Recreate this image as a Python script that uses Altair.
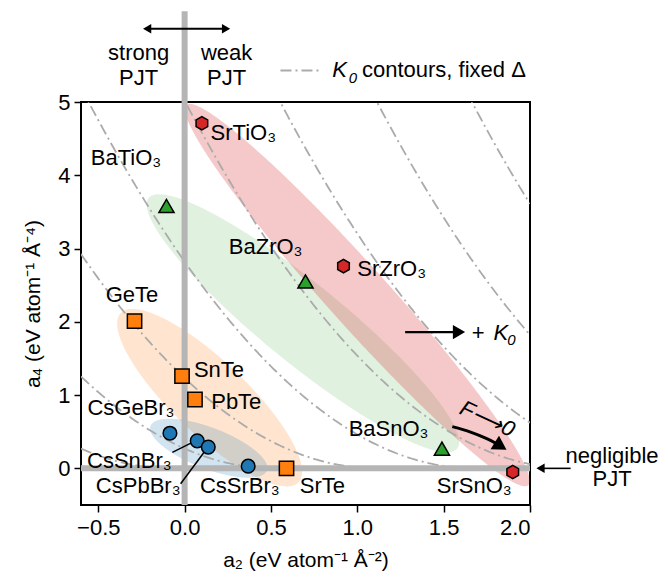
import altair as alt
import numpy as np
import pandas as pd

# ---------------- data ----------------
names = ["SrTiO₃", "SrZrO₃", "SrSnO₃",
         "BaTiO₃", "BaZrO₃", "BaSnO₃",
         "GeTe", "SnTe", "PbTe", "SrTe",
         "CsGeBr₃", "CsSnBr₃", "CsPbBr₃", "CsSrBr₃"]
family = ["Sr"] * 3 + ["Ba"] * 3 + ["Te"] * 4 + ["Br"] * 4
a2_vals = [0.10, 0.92, 1.90,
           -0.105, 0.70, 1.49,
           -0.29, -0.015, 0.06, 0.59,
           -0.085, 0.073, 0.137, 0.368]
a4_vals = [4.71, 2.76, -0.05,
           3.58, 2.55, 0.27,
           2.01, 1.26, 0.94, 0.00,
           0.48, 0.375, 0.29, 0.03]

# label anchor positions (data coords, left-aligned text)
label_x = [0.15, 1.00, 1.46,
           -0.543, 0.256, 0.95,
           -0.457, 0.054, 0.154, 0.667,
           -0.563, -0.565, -0.514, 0.089]
label_y = [4.58, 2.72, -0.24,
           4.24, 3.02, 0.54,
           2.36, 1.34, 0.91, -0.24,
           0.82, 0.10, -0.24, -0.24]

# leader lines for CsSnBr3 and CsPbBr3
leader_x = [-0.071, -0.023]
leader_y = [0.218, -0.21]
leader_x2 = [0.045, 0.116]
leader_y2 = [0.355, 0.23]

# K0 contour values (fixed Delta): a4 = (K0 - a2)^2
K0_values = [-0.08, 0.52, 1.11, 1.68, 2.24, 2.79, 3.35, 3.90]

# shaded ellipses: centre, end of major semi-axis, minor/major ratio
ell_names = ["Ba", "Sr", "Te", "Br"]
ell_cx = [0.685, 1.00, 0.145, 0.14]
ell_cy = [1.98, 2.365, 0.965, 0.275]
ell_tx = [-0.208, 0.01, -0.37, -0.197]
ell_ty = [3.69, 4.96, 2.12, 0.58]
ell_ratio = [0.20, 0.118, 0.30, 0.33]
ell_color = ["#2ca02c", "#d62728", "#ff7f0e", "#1f77b4"]
ell_opacity = [0.15, 0.25, 0.2, 0.2]

fam_color = {"Sr": "#d62728", "Ba": "#2ca02c", "Te": "#ff7f0e", "Br": "#1f77b4"}
HEX = "M0,-1L0.866,-0.5L0.866,0.5L0,1L-0.866,0.5L-0.866,-0.5Z"
fam_shape = {"Sr": HEX, "Ba": "triangle-up", "Te": "square", "Br": "circle"}
fam_size = {"Sr": 180, "Ba": 230, "Te": 205, "Br": 185}

# ---------------- layout ----------------
W, H = 449, 403
XMIN, XMAX = -0.6, 2.0
YMIN, YMAX = -0.5, 5.0
SX = W / (XMAX - XMIN)
SY = H / (YMAX - YMIN)
FONT = "Liberation Sans"
FS = 22

xs = alt.Scale(domain=[XMIN, XMAX], nice=False, zero=False)
ys = alt.Scale(domain=[YMIN, YMAX], nice=False, zero=False)

x_axis = alt.Axis(values=[-0.5, 0.0, 0.5, 1.0, 1.5, 2.0], format=".1f",
                  grid=False, domain=False, tickSize=7, tickWidth=1.5,
                  tickColor="black", labelFontSize=22, labelColor="black",
                  labelFont=FONT, labelPadding=5, titleFont=FONT,
                  titleFontSize=21, titleFontWeight="normal",
                  titleColor="black", titlePadding=11)
y_axis = alt.Axis(values=[0, 1, 2, 3, 4, 5], format="d",
                  grid=False, domain=False, tickSize=7, tickWidth=1.5,
                  tickColor="black", labelFontSize=22, labelColor="black",
                  labelFont=FONT, labelPadding=4, titleFont=FONT,
                  titleFontSize=21, titleFontWeight="normal",
                  titleColor="black", titlePadding=14)
XT = "a₂ (eV atom⁻¹ Å⁻²)"
YT = "a₄ (eV atom⁻¹ Å⁻⁴)"


def X(f="x"):
    return alt.X(f"{f}:Q", scale=xs, axis=x_axis, title=XT)


def Y(f="y"):
    return alt.Y(f"{f}:Q", scale=ys, axis=y_axis, title=YT)


def ellipse_band(cx, cy, tx, ty, ratio, n=400):
    ux, uy = (tx - cx) * SX, (ty - cy) * SY
    a = np.hypot(ux, uy)
    ux, uy = ux / a, uy / a
    vx, vy = -uy, ux
    b = ratio * a
    hw = np.sqrt((a * ux) ** 2 + (b * vx) ** 2)
    d = hw * np.cos(np.linspace(0, np.pi, n))
    A = uy ** 2 / a ** 2 + vy ** 2 / b ** 2
    B = 2 * d * (ux * uy / a ** 2 + vx * vy / b ** 2)
    C = d ** 2 * (ux ** 2 / a ** 2 + vx ** 2 / b ** 2) - 1
    disc = np.clip(B ** 2 - 4 * A * C, 0, None)
    e1 = (-B - np.sqrt(disc)) / (2 * A)
    e2 = (-B + np.sqrt(disc)) / (2 * A)
    return pd.DataFrame({"x": cx + d / SX, "y": cy + e1 / SY, "y2": cy + e2 / SY})


layers = []

# ellipses
for i in range(len(ell_names)):
    df = ellipse_band(ell_cx[i], ell_cy[i], ell_tx[i], ell_ty[i], ell_ratio[i])
    layers.append(alt.Chart(df).mark_area(color=ell_color[i], opacity=ell_opacity[i],
                                          clip=True)
                  .encode(x=X(), y=Y(), y2="y2:Q"))

# contours
rows = []
for k in K0_values:
    hi = min(k, XMAX)
    if hi <= XMIN:
        continue
    for xv in np.linspace(XMIN, hi, 200):
        rows.append({"K": k, "x": xv, "y": (k - xv) ** 2})
cont = pd.DataFrame(rows)
layers.append(alt.Chart(cont).mark_line(color="#ababab", strokeWidth=1.8,
                                        strokeDash=[11, 4, 2, 4], clip=True)
              .encode(x=X(), y=Y(), detail="K:N"))

# gray axes lines
vline = pd.DataFrame({"x": [0.0], "y": [YMIN], "y2": [6.24]})
hline = pd.DataFrame({"x": [XMIN], "x2": [XMAX], "y": [0.0]})
layers.append(alt.Chart(vline).mark_rule(color="#b5b5b5", strokeWidth=6, strokeCap="butt")
              .encode(x=X(), y=Y(), y2="y2:Q"))
layers.append(alt.Chart(hline).mark_rule(color="#b5b5b5", strokeWidth=6, strokeCap="butt")
              .encode(x=X(), x2="x2:Q", y=Y()))

# leader lines
lead = pd.DataFrame({"x": leader_x, "y": leader_y, "x2": leader_x2, "y2": leader_y2})
layers.append(alt.Chart(lead).mark_rule(color="black", strokeWidth=1.5)
              .encode(x=X(), y=Y(), x2="x2:Q", y2="y2:Q"))

# markers
pts = pd.DataFrame({"x": a2_vals, "y": a4_vals, "fam": family, "name": names})
for fam in ["Br", "Te", "Ba", "Sr"]:
    layers.append(alt.Chart(pts[pts.fam == fam]).mark_point(
        shape=fam_shape[fam], size=fam_size[fam], filled=True, fill=fam_color[fam],
        stroke="black", strokeWidth=1.5, opacity=1)
        .encode(x=X(), y=Y()))

# material labels
lab = pd.DataFrame({"x": label_x, "y": label_y, "t": names})
layers.append(alt.Chart(lab).mark_text(align="left", baseline="middle", fontSize=FS,
                                       font=FONT, color="black")
              .encode(x=X(), y=Y(), text="t:N"))

# annotations text
ann_t = ["strong", "PJT", "weak", "PJT", "negligible", "PJT", "+"]
ann_x = [-0.266, -0.266, 0.243, 0.243, 2.475, 2.475, 1.70]
ann_y = [5.67, 5.33, 5.67, 5.33, 0.17, -0.14, 1.85]
ann = pd.DataFrame({"x": ann_x, "y": ann_y, "t": ann_t})
layers.append(alt.Chart(ann).mark_text(align="center", baseline="middle", fontSize=FS,
                                       font=FONT, color="black")
              .encode(x=X(), y=Y(), text="t:N"))

# italic K symbols
itk = pd.DataFrame({"x": [1.789, 0.855], "y": [1.85, 5.43], "t": ["K", "K"]})
layers.append(alt.Chart(itk).mark_text(align="left", baseline="middle", fontSize=FS,
                                       font=FONT, fontStyle="italic", color="black")
              .encode(x=X(), y=Y(), text="t:N"))
its = pd.DataFrame({"x": [1.868, 0.95], "y": [1.75, 5.33], "t": ["0", "0"]})
layers.append(alt.Chart(its).mark_text(align="left", baseline="middle", fontSize=15,
                                       font=FONT, fontStyle="italic", color="black")
              .encode(x=X(), y=Y(), text="t:N"))
leg = pd.DataFrame({"x": [1.027], "y": [5.43], "t": ["contours, fixed Δ"]})
layers.append(alt.Chart(leg).mark_text(align="left", baseline="middle", fontSize=FS,
                                       font=FONT, color="black")
              .encode(x=X(), y=Y(), text="t:N"))
legline = pd.DataFrame({"x": [0.555], "x2": [0.786], "y": [5.43]})
layers.append(alt.Chart(legline).mark_rule(color="#ababab", strokeWidth=1.8,
                                           strokeDash=[11, 4, 2, 4])
              .encode(x=X(), x2="x2:Q", y=Y()))

# F -> 0 rotated label
fz = pd.DataFrame({"x": [1.753], "y": [0.674], "t": ["F⟶0"]})
layers.append(alt.Chart(fz).mark_text(align="center", baseline="middle", fontSize=FS,
                                      font=FONT, fontStyle="italic", angle=25, color="black")
              .encode(x=X(), y=Y(), text="t:N"))

# arrows: shafts
shaft_x = [-0.217, 1.277, 2.061]
shaft_x2 = [0.24, 1.589, 2.235]
shaft_y = [6.0, 1.86, 0.0]
shaft_w = [1.8, 2.2, 1.6]
for i in range(len(shaft_x)):
    d = pd.DataFrame({"x": [shaft_x[i]], "x2": [shaft_x2[i]], "y": [shaft_y[i]]})
    layers.append(alt.Chart(d).mark_rule(color="black", strokeWidth=shaft_w[i])
                  .encode(x=X(), x2="x2:Q", y=Y()))
# curved F->0 arrow
fx = [1.550, 1.656, 1.743, 1.811]
fy = [0.569, 0.494, 0.412, 0.333]
layers.append(alt.Chart(pd.DataFrame({"x": fx, "y": fy})).mark_line(
    color="black", strokeWidth=3, interpolate="monotone").encode(x=X(), y=Y()))

# arrow heads
head_x = [-0.217, 0.24, 1.589, 2.061, 1.830]
head_y = [6.0, 6.0, 1.86, 0.0, 0.303]
head_shape = ["triangle-left", "triangle-right", "triangle-right", "triangle-left", "triangle-right"]
head_size = [90, 90, 200, 90, 256]
head_ang = [0, 0, 0, 0, 32]
for i in range(len(head_x)):
    d = pd.DataFrame({"x": [head_x[i]], "y": [head_y[i]]})
    layers.append(alt.Chart(d).mark_point(
        shape=head_shape[i], size=head_size[i], filled=True, color="black",
        opacity=1, angle=head_ang[i]).encode(x=X(), y=Y()))

chart = alt.layer(*layers).properties(
    width=W, height=H,
    padding={"left": 73, "top": 94, "right": 130, "bottom": 68},
    autosize=alt.AutoSizeParams(type="none"),
).configure_view(stroke="black", strokeWidth=2)

chart.save("out.html", embed_options={"renderer": "svg", "actions": False})
